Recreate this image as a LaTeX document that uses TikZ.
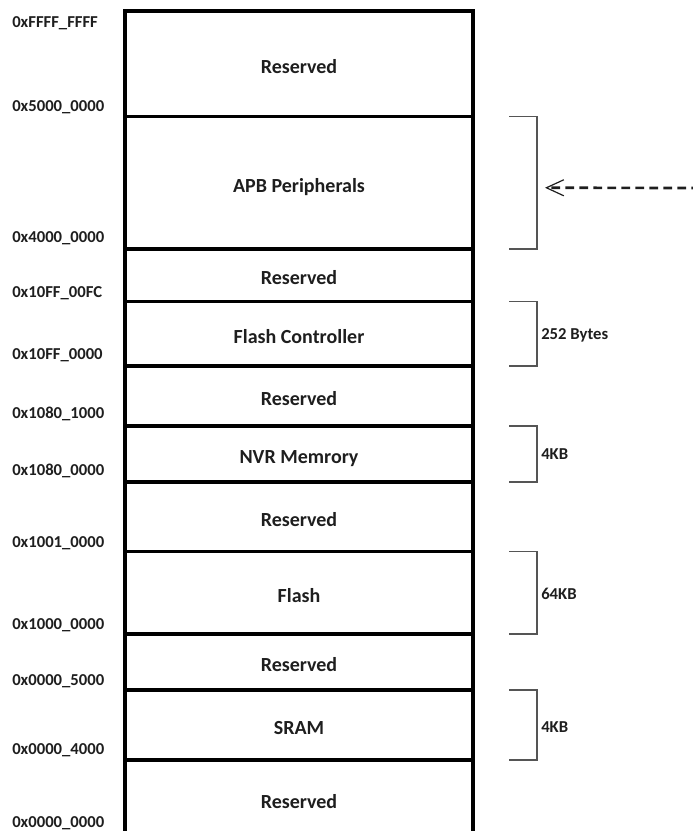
\documentclass[tikz,border=0pt]{standalone}
\usepackage{fontspec}
\setmainfont{Carlito}
\usetikzlibrary{arrows.meta,positioning,calc}
\definecolor{mapink}{RGB}{30,30,30}
\definecolor{bracegray}{RGB}{85,85,85}

\begin{document}
\begin{tikzpicture}[x=0.75pt, y=-0.75pt,
  region/.style={rectangle, draw=black, line width=2.3pt, outer sep=0pt,
    minimum width=261pt, text depth=0pt, text height=14pt,
    font=\bfseries\fontsize{15}{17}\selectfont, text=mapink},
  addr/.style={anchor=west, inner sep=0pt, font=\bfseries\fontsize{12.5}{14}\selectfont,
    text=mapink},
  sizetag/.style={inner sep=0pt, font=\bfseries\fontsize{12.5}{14}\selectfont, text=mapink},
  brace/.style={draw=bracegray, line width=0.9pt},
  dasharrow/.style={draw=mapink, line width=2pt, dash pattern=on 6.5pt off 4pt,
    -{Straight Barb[length=13pt, width=12pt, line width=0.9pt]}}
]
\useasboundingbox (0,0) rectangle (692,831);

% memory regions, top to bottom
\node[region, minimum height=79.125pt, anchor=north] (R1) at (299,11) {Reserved};
\node[region, minimum height=99.375pt, below=0pt of R1] (APB) {APB Peripherals};
\node[region, minimum height=39.375pt, below=0pt of APB] (R2) {Reserved};
\node[region, minimum height=48.375pt, below=0pt of R2] (FC) {Flash Controller};
\node[region, minimum height=45pt, below=0pt of FC] (R3) {Reserved};
\node[region, minimum height=42pt, below=0pt of R3] (NVR) {NVR Memrory};
\node[region, minimum height=52.125pt, below=0pt of NVR] (R4) {Reserved};
\node[region, minimum height=61.875pt, below=0pt of R4] (FL) {Flash};
\node[region, minimum height=42pt, below=0pt of FL] (R5) {Reserved};
\node[region, minimum height=52.5pt, below=0pt of R5] (SRAM) {SRAM};
\node[region, minimum height=58.5pt, below=0pt of SRAM] (R6) {Reserved};

% addresses
\node[addr] (aFFFF) at (12,23) {0xFFFF\_FFFF};
\node[addr] (a5000) at (12,107) {0x5000\_0000};
\node[addr] (a4000) at (12,238) {0x4000\_0000};
\node[addr] (a10FC) at (12,293) {0x10FF\_00FC};
\node[addr] (a10FF) at (12,355) {0x10FF\_0000};
\node[addr] (a1081) at (12,414) {0x1080\_1000};
\node[addr] (a1080) at (12,471) {0x1080\_0000};
\node[addr] (a1001) at (12,543) {0x1001\_0000};
\node[addr] (a1000) at (12,625) {0x1000\_0000};
\node[addr] (a0005) at (12,681) {0x0000\_5000};
\node[addr] (a0004) at (12,750) {0x0000\_4000};
\node[addr] (a0000) at (12,823) {0x0000\_0000};

% size brackets
\foreach \reg in {APB,FC,NVR,FL,SRAM}{
  \draw[brace] ($(\reg.north east)+(36,0)$) -| ($(\reg.south east)+(64,0)$) -- ++(-28,0);
  \coordinate (b\reg) at ($(\reg.east)+(64,0)$);
}
\node[sizetag, anchor=west] (sFC) at ($(bFC)+(4,2)$) {252 Bytes};
\node[sizetag, anchor=west] (sNVR) at ($(bNVR)+(4,0)$) {4KB};
\node[sizetag, anchor=west] (sFL) at ($(bFL)+(4,1)$) {64KB};
\node[sizetag, anchor=west] (sSRAM) at ($(bSRAM)+(4,2)$) {4KB};

% pointer into the APB block
\coordinate (apbsrc) at (700,188);
\coordinate (apbtip) at ($(bAPB)+(8,5)$);
\draw[dasharrow] (apbsrc) -- (apbtip);
\end{tikzpicture}
\end{document}
